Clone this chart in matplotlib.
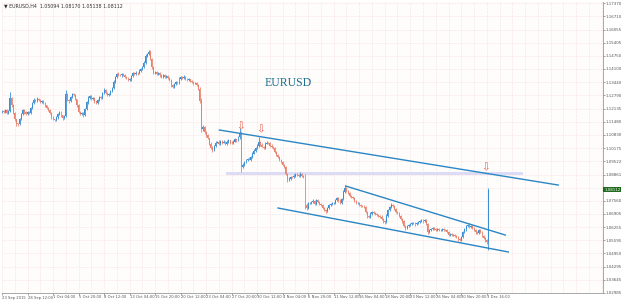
import matplotlib.pyplot as plt
import numpy as np

# EURUSD H4 closes, in pips (price * 1e4), one row per 16 bars
closes = [
    11200, 11196, 11205, 11190, 11200, 11265, 11230, 11190, 11160, 11140, 11135, 11160, 11185, 11206, 11195, 11185,
    11195, 11191, 11215, 11240, 11256, 11250, 11262, 11256, 11245, 11250, 11241, 11230, 11215, 11206, 11190, 11170,
    11160, 11157, 11170, 11185, 11196, 11180, 11167, 11175, 11285, 11256, 11250, 11270, 11285, 11281, 11260, 11230,
    11195, 11185, 11190, 11181, 11210, 11245, 11266, 11275, 11262, 11266, 11250, 11241, 11255, 11270, 11266, 11290,
    11305, 11290, 11281, 11285, 11300, 11315, 11345, 11370, 11385, 11380, 11378, 11385, 11380, 11372, 11365, 11355,
    11358, 11375, 11390, 11385, 11392, 11388, 11400, 11410, 11420, 11440, 11475, 11485, 11495, 11460, 11420, 11390,
    11395, 11385, 11390, 11378, 11372, 11380, 11370, 11375, 11365, 11355, 11330, 11320, 11335, 11345, 11340, 11360,
    11370, 11365, 11372, 11360, 11355, 11358, 11350, 11345, 11338, 11340, 11330, 11310, 11250, 11110, 11120, 11095,
    11080, 11065, 11040, 11018, 11008, 11030, 11045, 11048, 11040, 11052, 11045, 11048, 11040, 11050, 11055, 11045,
    11043, 11050, 11060, 11057, 11070, 11090, 10925, 10935, 10950, 10958, 10965, 10960, 10973, 10990, 11005, 11018,
    11030, 11048, 11035, 11025, 11020, 11040, 11045, 11043, 11030, 11025, 11018, 11000, 10983, 10975, 10960, 10948,
    10935, 10923, 10890, 10860, 10865, 10875, 10874, 10880, 10890, 10884, 10880, 10890, 10880, 10875, 10735, 10720,
    10745, 10745, 10750, 10755, 10740, 10760, 10750, 10740, 10735, 10720, 10710, 10705, 10720, 10735, 10740, 10745,
    10745, 10760, 10770, 10755, 10745, 10765, 10800, 10820, 10805, 10794, 10780, 10775, 10770, 10755, 10745, 10745,
    10735, 10730, 10728, 10725, 10700, 10680, 10676, 10690, 10700, 10695, 10690, 10685, 10680, 10676, 10665, 10655,
    10651, 10680, 10710, 10725, 10735, 10730, 10715, 10700, 10695, 10680, 10665, 10655, 10630, 10621, 10630, 10636,
    10640, 10645, 10646, 10640, 10648, 10651, 10655, 10661, 10655, 10660, 10640, 10601, 10610, 10615, 10621, 10618,
    10612, 10615, 10610, 10611, 10615, 10612, 10611, 10600, 10587, 10590, 10585, 10587, 10580, 10575, 10565, 10562,
    10575, 10600, 10615, 10630, 10636, 10625, 10630, 10621, 10610, 10600, 10596, 10611, 10600, 10580, 10572, 10560,
    10550, 10811,
]
first_open = 11195

# wick lengths above / below the body, in pips
upper_wick = [
    5, 6, 4, 7, 5, 31, 6, 4, 5, 3, 4, 6, 5, 7, 4, 5,
    6, 8, 5, 6, 9, 4, 7, 5, 6, 5, 4, 6, 3, 5, 4, 6,
    5, 4, 6, 5, 7, 4, 3, 6, 20, 8, 5, 7, 6, 4, 5, 3,
    4, 6, 5, 7, 5, 6, 8, 5, 4, 6, 5, 3, 7, 5, 4, 6,
    8, 5, 4, 6, 5, 7, 9, 6, 5, 8, 4, 6, 5, 4, 3, 5,
    6, 5, 7, 4, 6, 5, 8, 6, 5, 7, 8, 6, 9, 10, 5, 6,
    7, 5, 6, 4, 8, 5, 6, 4, 5, 3, 6, 7, 5, 6, 4, 8,
    6, 5, 7, 4, 5, 6, 4, 5, 3, 6, 5, 4, 8, 15, 10, 6,
    5, 7, 4, 6, 8, 5, 6, 4, 7, 5, 6, 8, 5, 6, 7, 4,
    6, 5, 7, 4, 8, 27, 10, 6, 5, 7, 4, 6, 5, 7, 6, 5,
    6, 22, 5, 7, 4, 6, 8, 5, 4, 6, 5, 3, 5, 6, 4, 5,
    6, 5, 7, 4, 8, 5, 6, 7, 5, 4, 6, 8, 5, 6, 12, 8,
    6, 5, 7, 8, 5, 6, 4, 5, 6, 7, 5, 4, 6, 5, 7, 6,
    5, 7, 6, 5, 8, 6, 10, 14, 6, 5, 4, 6, 5, 7, 4, 5,
    6, 5, 4, 7, 5, 6, 4, 8, 5, 6, 5, 4, 6, 5, 7, 4,
    5, 8, 7, 6, 10, 5, 6, 4, 5, 6, 7, 5, 6, 4, 5, 6,
    5, 6, 4, 7, 5, 6, 8, 5, 4, 6, 8, 5, 6, 4, 5, 6,
    4, 5, 6, 3, 5, 4, 6, 5, 4, 6, 5, 3, 5, 4, 6, 5,
    6, 5, 7, 8, 6, 9, 5, 6, 4, 5, 8, 6, 5, 4, 6, 5,
    6, 6,
]
lower_wick = [
    6, 5, 7, 4, 6, 5, 8, 5, 6, 12, 7, 4, 5, 6, 8, 4,
    5, 6, 7, 5, 4, 6, 5, 7, 4, 6, 5, 7, 4, 6, 5, 8,
    5, 6, 4, 7, 5, 6, 8, 4, 5, 6, 7, 5, 4, 6, 5, 7,
    6, 5, 4, 10, 6, 5, 7, 4, 6, 5, 8, 6, 4, 5, 7, 6,
    5, 6, 7, 4, 6, 5, 4, 7, 5, 6, 4, 8, 5, 6, 4, 7,
    5, 6, 4, 7, 5, 6, 4, 5, 7, 4, 6, 5, 4, 8, 9, 6,
    5, 7, 4, 6, 5, 8, 6, 4, 7, 5, 9, 6, 4, 5, 7, 6,
    5, 4, 6, 7, 5, 4, 6, 5, 7, 4, 6, 5, 8, 15, 9, 7,
    6, 5, 8, 6, 10, 5, 6, 4, 7, 5, 6, 4, 6, 5, 7, 6,
    5, 6, 4, 7, 5, 6, 26, 8, 6, 5, 7, 4, 6, 5, 4, 6,
    5, 6, 7, 4, 6, 5, 4, 7, 5, 6, 4, 7, 6, 5, 8, 6,
    7, 5, 8, 10, 6, 5, 7, 4, 6, 5, 7, 4, 6, 5, 20, 12,
    6, 5, 4, 7, 5, 6, 7, 4, 6, 5, 7, 8, 6, 5, 4, 6,
    5, 6, 4, 7, 5, 6, 4, 5, 6, 5, 7, 4, 6, 5, 7, 6,
    5, 6, 4, 7, 5, 8, 6, 4, 7, 5, 6, 4, 5, 7, 6, 8,
    10, 6, 5, 4, 7, 5, 6, 7, 5, 6, 4, 7, 5, 8, 6, 5,
    6, 4, 5, 7, 5, 6, 4, 5, 7, 6, 5, 10, 6, 5, 4, 6,
    5, 4, 6, 5, 7, 4, 5, 6, 7, 5, 6, 4, 5, 6, 7, 8,
    6, 5, 4, 7, 5, 6, 4, 5, 6, 7, 5, 4, 6, 5, 7, 8,
    9, 36,
]

price_ticks = [1.17370, 1.16710, 1.16055, 1.15405, 1.14750, 1.14100, 1.13440, 1.12790,
               1.12135, 1.11480, 1.10830, 1.10175, 1.09522, 1.08861, 1.08210, 1.07560,
               1.06905, 1.06255, 1.05595, 1.04950, 1.04295, 1.03645, 1.02985]
date_labels = ['23 Sep 2015', '28 Sep 12:00', '1 Oct 04:00', '5 Oct 20:00', '8 Oct 12:00',
               '13 Oct 04:00', '15 Oct 20:00', '20 Oct 12:00', '23 Oct 04:00', '27 Oct 20:00',
               '30 Oct 12:00', '4 Nov 04:00', '6 Nov 20:00', '11 Nov 12:00', '16 Nov 04:00',
               '18 Nov 20:00', '23 Nov 12:00', '26 Nov 04:00', '30 Nov 20:00', '3 Dec 16:00']
date_bars = [0, 16, 32, 48, 64, 80, 96, 112, 128, 144, 160, 176, 192, 208, 224, 240,
             256, 272, 288, 304]
last_price = 1.08112

# drawn objects: (bar, price) pairs
resistance = [(136.3, 1.1107), (348.8, 1.0834)]
wedge_top = [(215.6, 1.0829), (315.6, 1.0586)]
wedge_bottom = [(173.1, 1.0720), (317.5, 1.0502)]
zone_bars = (140.6, 326.9)
zone_prices = (1.0884, 1.0899)
arrow_points = [(149.5, 1.1125), (161.9, 1.1110), (303.1, 1.0920)]

bull_col = '#3a8ed4'
bear_col = '#e8826e'
line_col = '#2a86c4'

c = np.array(closes) / 1e4
o = np.concatenate([[first_open / 1e4], c[:-1]])
hi = np.maximum(o, c) + np.array(upper_wick) / 1e4
lo = np.minimum(o, c) - np.array(lower_wick) / 1e4
x = np.arange(len(c))
cols = np.where(c >= o, bull_col, bear_col)

fig = plt.figure(figsize=(6.25, 3.01), dpi=100)
fig.patch.set_facecolor('white')
ax = fig.add_axes([2 / 625, 8 / 301, 601 / 625, 291 / 301])
ax.set_facecolor('#fffdfb')

ax.set_xlim(2 / 1.6, 603 / 1.6)
ax.set_ylim(1.0299, 1.1742)

# grid
for p in price_ticks:
    ax.axhline(p, color='#f4dede', lw=0.5, ls=(0, (1, 1)), zorder=0)
for b in range(0, 380, 8):
    ax.axvline(b, color='#f4dede', lw=0.5, ls=(0, (1, 1)), zorder=0)

# candles
ax.vlines(x, lo, hi, colors=cols, lw=0.6, zorder=2)
body = np.maximum(np.abs(c - o), 0.00006)
ax.bar(x, body, bottom=np.minimum(o, c), width=0.6, color=cols, lw=0, zorder=3)

# support / resistance zone
ax.fill_between(zone_bars, zone_prices[0], zone_prices[1], color='#dcdcf6', lw=0, zorder=1)

for seg in (resistance, wedge_top, wedge_bottom):
    ax.plot([seg[0][0], seg[1][0]], [seg[0][1], seg[1][1]], color=line_col, lw=1.0, zorder=4)

for bx, py in arrow_points:
    ax.text(bx, py, '\u21e9', color='#e06050', fontsize=7.5, ha='center', va='center', zorder=5)

ax.text(179.5, 1.1340, 'EURUSD', family='Liberation Serif', fontsize=8.5,
        color='#1b6f93', ha='center', va='center')

# axes styling like the terminal
for s in ('top', 'left'):
    ax.spines[s].set_visible(False)
for s in ('right', 'bottom'):
    ax.spines[s].set_color('#9a9a9a')
    ax.spines[s].set_linewidth(0.6)

ax.yaxis.tick_right()
ax.set_yticks(price_ticks)
ax.set_yticklabels(['' if abs(p - 1.08210) < 1e-6 else '%.5f' % p for p in price_ticks])
ax.set_xticks(date_bars)
ax.set_xticklabels(date_labels, ha='left')
ax.tick_params(axis='y', labelsize=2.9, colors='#555555', length=1.5, width=0.4, pad=0.6)
ax.tick_params(axis='x', labelsize=2.7, colors='#555555', length=1.5, width=0.4, pad=0.3)

ax.text(1.002, last_price, '%.5f' % last_price, transform=ax.get_yaxis_transform(),
        fontsize=2.9, color='white', va='center', ha='left',
        bbox=dict(boxstyle='square,pad=0.2', fc='#1e6b1e', ec='none'))

fig.text(4 / 625, 1 - 6 / 301, '\u25bc EURUSD,H4  1.05094 1.08170 1.05138 1.08112',
         fontsize=3.4, color='#333333', va='center')

fig.savefig('out.png', dpi=100)
